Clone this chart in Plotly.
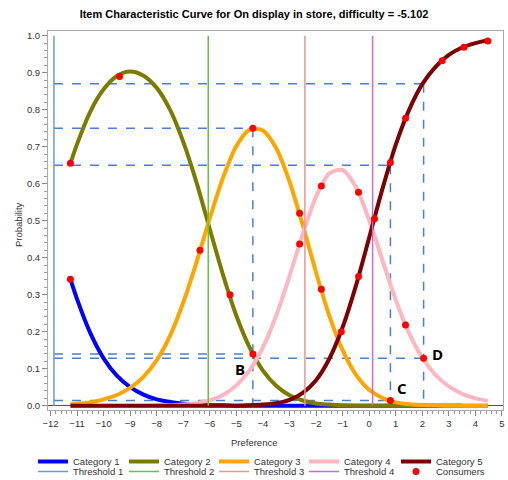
import plotly.graph_objects as go

# ---- data ----
pref = [-11.25, -11, -10.5, -10, -9.5, -9, -8.5, -8, -7.5, -7, -6.5, -6, -5.5, -5, -4.5, -4,
        -3.5, -3, -2.5, -2, -1.5, -1, -0.5, 0, 0.5, 1, 1.5, 2, 2.5, 3, 3.5, 4, 4.47]

cat1 = [0.342, 0.288, 0.196, 0.128, 0.081, 0.050, 0.030, 0.017, 0.010, 0.005, 0.003, 0.001,
        0.001, 0.000, 0.000, 0.000, 0.000, 0.000, 0.000, 0.000, 0.000, 0.000, 0.000, 0.000,
        0.000, 0.000, 0.000, 0.000, 0.000, 0.000, 0.000]          # ends at 3.5
cat2 = [0.655, 0.707, 0.795, 0.855, 0.891, 0.903, 0.892, 0.859, 0.800, 0.713, 0.603, 0.477,
        0.353, 0.243, 0.157, 0.095, 0.054, 0.028, 0.014, 0.006, 0.003, 0.001, 0.000, 0.000,
        0.000, 0.000, 0.000, 0.000, 0.000, 0.000, 0.000, 0.000, 0.000]
cat3 = [0.004, 0.005, 0.009, 0.017, 0.029, 0.048, 0.078, 0.123, 0.189, 0.279, 0.388, 0.507,
        0.617, 0.702, 0.746, 0.744, 0.696, 0.606, 0.488, 0.360, 0.243, 0.150, 0.084, 0.043,
        0.021, 0.009, 0.004, 0.002, 0.001, 0.000, 0.000, 0.000, 0.000]
cat4 = [0.000, 0.000, 0.000, 0.000, 0.000, 0.000, 0.000, 0.001, 0.001, 0.003, 0.007, 0.015,
        0.029, 0.055, 0.096, 0.158, 0.244, 0.350, 0.464, 0.565, 0.628, 0.637, 0.591, 0.502,
        0.393, 0.286, 0.197, 0.130, 0.083, 0.052, 0.032, 0.020, 0.013]
cat5 = [0.000, 0.000, 0.000, 0.000, 0.000, 0.000, 0.000, 0.000, 0.000, 0.000, 0.000, 0.000,
        0.000, 0.000, 0.001, 0.003, 0.007, 0.016, 0.035, 0.069, 0.127, 0.212, 0.324, 0.454,
        0.586, 0.705, 0.799, 0.869, 0.916, 0.948, 0.968, 0.980, 0.988]

category_names = ["Category 1", "Category 2", "Category 3", "Category 4", "Category 5"]
threshold_names = ["Threshold 1", "Threshold 2", "Threshold 3", "Threshold 4"]
thresholds = [-11.87, -6.06, -2.42, 0.13]

consumer_x = [-11.25, -11.25, -9.4, -5.24, -4.38,
              -6.37, -4.38, -2.62, -1.8, 0.8,
              -2.62, -1.8, -0.4, 1.37, 2.05,
              -1.05, -0.4, 0.2, 0.8, 1.37, 2.75, 3.57, 4.47]
consumer_y = [0.342, 0.655, 0.89, 0.30, 0.14,
              0.42, 0.75, 0.52, 0.315, 0.014,
              0.437, 0.594, 0.577, 0.218, 0.128,
              0.20, 0.349, 0.505, 0.657, 0.777, 0.932, 0.969, 0.986]

guide_start = -11.87
guide_x = [-4.38, 0.8, 2.05]
guide_top = [0.75, 0.65, 0.87]
guide_low = [0.14, 0.014, 0.128]

label_text = ["B", "C", "D"]
label_x = [-4.86, 1.23, 2.59]
label_y = [0.10, 0.048, 0.14]

title_text = "Item Characteristic Curve for On display in store, difficulty = -5.102"
x_title = "Preference"
y_title = "Probability"

# ---- styles ----
cat_colors = ["#0000FF", "#7B7B00", "#FFA500", "#FFB6C1", "#7F0000"]
thr_colors = ["#6F98DA", "#66C43A", "#E8978C", "#C86CC8"]
guide_color = "#4A7FD4"
FONT = "Liberation Sans, Arial, sans-serif"
W, H = 508, 480
ML, MR, MT, MB = 48, 5, 31, 70
PW, PH = W - ML - MR, H - MT - MB

# legend grid: one single-entry legend per slot (5 columns x 2 rows)
legend_col_px = [33, 124, 214, 304, 396]
legend_row_px = [447, 457]

fig = go.Figure()

legend_layout = {}
slot = 0


def next_legend():
    global slot
    col, row = slot % 5, slot // 5
    key = "legend" if slot == 0 else "legend%d" % (slot + 1)
    legend_layout[key] = dict(
        xref="container", yref="container",
        x=legend_col_px[col] / W, xanchor="left",
        y=1 - legend_row_px[row] / H, yanchor="top",
        orientation="v", itemwidth=30, bgcolor="rgba(0,0,0,0)",
        font=dict(family=FONT, size=9.5, color="#333333"))
    slot += 1
    return key


cats = [cat1, cat2, cat3, cat4, cat5]
for name, ys, col in zip(category_names, cats, cat_colors):
    fig.add_trace(go.Scatter(x=pref[:len(ys)], y=ys, mode="lines", name=name,
                             legend=next_legend(),
                             line=dict(color=col, width=4, shape="spline", smoothing=0.8)))

for name, t, col in zip(threshold_names, thresholds, thr_colors):
    fig.add_trace(go.Scatter(x=[t, t], y=[0, 1], mode="lines", name=name,
                             legend=next_legend(),
                             line=dict(color=col, width=1.5)))

fig.add_trace(go.Scatter(x=consumer_x, y=consumer_y, mode="markers", name="Consumers",
                         legend=next_legend(),
                         marker=dict(color="#FF0000", size=7)))

# dashed guide lines
shapes = []
for gx, gt in zip(guide_x, guide_top):
    shapes.append(dict(type="line", xref="x", yref="y", x0=guide_start, x1=gx, y0=gt, y1=gt,
                       line=dict(color=guide_color, width=1.5, dash="dash"), layer="below"))
    shapes.append(dict(type="line", xref="x", yref="y", x0=gx, x1=gx, y0=gt, y1=0,
                       line=dict(color=guide_color, width=1.5, dash="dash"), layer="below"))
for gx, gl in zip(guide_x, guide_low):
    shapes.append(dict(type="line", xref="x", yref="y", x0=guide_start, x1=gx, y0=gl, y1=gl,
                       line=dict(color=guide_color, width=1.5, dash="dash"), layer="below"))

annotations = [dict(x=lx, y=ly, xref="x", yref="y", text="<b>%s</b>" % t, showarrow=False,
                    font=dict(family="Open Sans, sans-serif", size=15, color="black"))
               for t, lx, ly in zip(label_text, label_x, label_y)]
# axis titles as positioned text (paper coordinates)
annotations.append(dict(x=(18 - ML) / PW, y=(H - MB - 225) / PH, xref="paper", yref="paper",
                        text=y_title, textangle=-90, showarrow=False,
                        xanchor="center", yanchor="middle",
                        font=dict(family=FONT, size=9.5, color="#333333")))
annotations.append(dict(x=(254 - ML) / PW, y=(H - MB - 442) / PH, xref="paper", yref="paper",
                        text=x_title, showarrow=False, xanchor="center", yanchor="middle",
                        font=dict(family=FONT, size=9.5, color="#333333")))

fig.update_layout(
    width=W, height=H,
    margin=dict(l=ML, r=MR, t=MT, b=MB, autoexpand=False),
    paper_bgcolor="white", plot_bgcolor="white",
    font=dict(family=FONT, size=10, color="#333333"),
    title=dict(text="<b>%s</b>" % title_text, x=0.5, xanchor="center", y=0.971, yanchor="middle",
               font=dict(family=FONT, size=11, color="black")),
    shapes=shapes,
    annotations=annotations,
    showlegend=True,
    **legend_layout,
)

fig.update_xaxes(range=[-12.094, 5.04], tick0=0, dtick=1, ticks="outside", ticklen=5,
                 tickcolor="#888888", showline=True, linecolor="#AAAAAA", mirror=True,
                 showgrid=False, zeroline=False,
                 minor=dict(dtick=0.2, ticks="outside", ticklen=3, tickcolor="#999999"),
                 tickfont=dict(size=9.5, color="#333333"))
fig.update_yaxes(range=[-0.0116, 1.0127], tick0=0, dtick=0.1, tickformat=".1f", ticks="outside",
                 ticklen=5, tickcolor="#888888", showline=True, linecolor="#AAAAAA", mirror=True,
                 showgrid=False, zeroline=True, zerolinecolor="#555555", zerolinewidth=1,
                 minor=dict(dtick=0.02, ticks="outside", ticklen=3, tickcolor="#999999"),
                 tickfont=dict(size=9.5, color="#333333"))

fig.write_html("out.html")
